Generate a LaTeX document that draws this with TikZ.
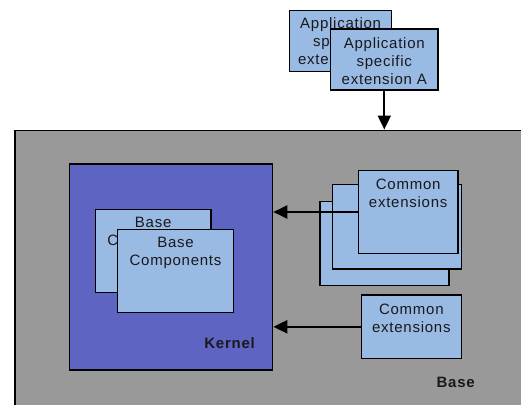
\documentclass[tikz,border=0pt]{standalone}
\usepackage{fontspec}
\setmainfont{Liberation Sans}[LetterSpace=5]
\usetikzlibrary{arrows.meta,calc}

\definecolor{basegray}{RGB}{153,153,153}
\definecolor{kernelblue}{RGB}{94,100,194}
\definecolor{boxblue}{RGB}{153,186,226}
\definecolor{inkdark}{RGB}{25,25,30}

\tikzset{
  panel/.style={draw=black, line width=1.3pt, fill=boxblue, inner sep=0pt},
  lbl/.style={text=inkdark, align=center, inner sep=0pt,
              font=\fontsize{15}{18}\selectfont},
  tag/.style={text=inkdark, inner sep=0pt,
              font=\fontsize{15}{18}\selectfont\bfseries},
  link/.style={line width=2pt, -{Triangle[length=14pt,width=13pt]}},
}

\begin{document}
\begin{tikzpicture}[x=1pt,y=-1pt]
\useasboundingbox (0,0) rectangle (521,404);
\clip (0,0) rectangle (521,404);

% Base layer (runs past the right and bottom edges)
\node[draw=black, line width=1.5pt, fill=basegray, inner sep=0pt,
      minimum width=530, minimum height=290, anchor=north west]
  (base) at (14,129.5) {};
\node[tag, anchor=base] (baselbl) at (455.7,387.5) {Base};

% Kernel
\node[draw=black, line width=1.3pt, fill=kernelblue, inner sep=0pt,
      minimum width=203, minimum height=206, anchor=north west]
  (kernel) at (69,163.3) {};
\node[tag, anchor=base east] (kernellbl) at (255,348) {Kernel};

% Base components (stacked)
\node[panel, minimum width=115.6, minimum height=83, anchor=north west]
  (bcB) at (94.7,208.7) {};
\node[lbl, anchor=north] (bcBt) at ([yshift=-8]bcB.north) {Base\\Components};
\node[panel, minimum width=115.7, minimum height=83.3, anchor=north west]
  (bcF) at (117,228.7) {};
\node[lbl, anchor=north] (bcFt) at ([yshift=-8]bcF.north) {Base\\Components};

% Common extensions (stack of three)
\node[panel, minimum width=129, minimum height=84, anchor=north west]
  (ceB) at (319.3,201) {};
\node[panel, minimum width=128.7, minimum height=84.3, anchor=north west]
  (ceM) at (332,184) {};
\node[panel, minimum width=99.6, minimum height=83.3, anchor=north west]
  (ceF) at (357.7,169.7) {};
\node[lbl, anchor=north] (ceFt) at ([yshift=-9]ceF.north) {Common\\extensions};

% Common extensions (single)
\node[panel, minimum width=100, minimum height=63.7, anchor=north west]
  (ceS) at (360.7,294.3) {};
\node[lbl, anchor=north] (ceSt) at ([yshift=-9.5]ceS.north) {Common\\extensions};

% Application specific extensions
\node[panel, minimum width=102, minimum height=60.7, anchor=north west]
  (apB) at (289,10) {};
\node[lbl] (apBt) at (apB.center) {Application\\specific\\extension B};
\node[panel, minimum width=107.3, minimum height=61, anchor=north west]
  (apF) at (330,28.3) {};
\node[lbl] (apFt) at ([yshift=-1.5]apF.center) {Application\\specific\\extension A};

% Connectors
\draw[link] (apF.south) -- (apF.south |- base.north);
\draw[link] (ceF.west) -- (ceF.west -| kernel.east);
\draw[link] (ceS.west) -- (ceS.west -| kernel.east);
\end{tikzpicture}
\end{document}
